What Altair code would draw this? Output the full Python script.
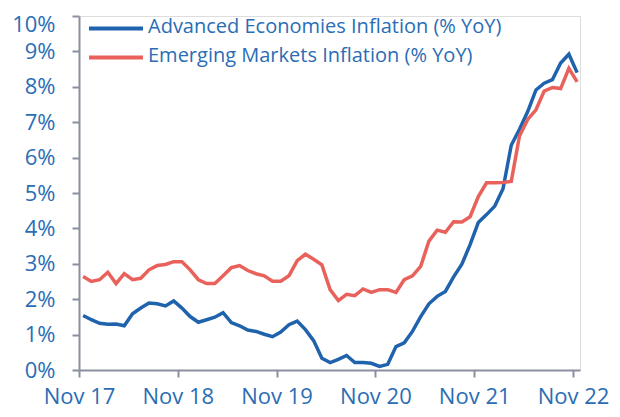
import altair as alt
import pandas as pd

# Monthly observations, Nov 2017 .. Nov 2022 (61 months)
advanced = [1.54, 1.42, 1.32, 1.29, 1.30, 1.25, 1.59, 1.75, 1.89, 1.87, 1.81, 1.95,
            1.75, 1.51, 1.35, 1.42, 1.49, 1.62, 1.34, 1.25, 1.13, 1.09, 1.01, 0.94,
            1.07, 1.28, 1.38, 1.14, 0.83, 0.33, 0.21, 0.30, 0.41, 0.21, 0.21, 0.19,
            0.10, 0.16, 0.66, 0.77, 1.09, 1.51, 1.87, 2.08, 2.22, 2.63, 2.99, 3.54,
            4.17, 4.39, 4.63, 5.12, 6.35, 6.80, 7.30, 7.91, 8.10, 8.20, 8.67, 8.92,
            8.40]
emerging = [2.64, 2.50, 2.55, 2.76, 2.44, 2.72, 2.55, 2.59, 2.83, 2.95, 2.98, 3.06,
            3.06, 2.83, 2.55, 2.44, 2.44, 2.66, 2.89, 2.95, 2.81, 2.72, 2.66, 2.51,
            2.51, 2.66, 3.09, 3.27, 3.13, 2.97, 2.27, 1.96, 2.14, 2.10, 2.29, 2.19,
            2.27, 2.27, 2.19, 2.55, 2.66, 2.93, 3.64, 3.95, 3.89, 4.19, 4.18, 4.33,
            4.90, 5.29, 5.29, 5.30, 5.33, 6.61, 7.08, 7.35, 7.88, 7.98, 7.95, 8.52,
            8.14]
series_names = ["Advanced Economies Inflation (% YoY)", "Emerging Markets Inflation (% YoY)"]
series_colors = ["#1f63ad", "#e9615b"]
x_tick_labels = ["Nov 17", "Nov 18", "Nov 19", "Nov 20", "Nov 21", "Nov 22"]
y_ticks = list(range(0, 11))

rows = []
for name, vals in zip(series_names, [advanced, emerging]):
    for i, v in enumerate(vals):
        rows.append({"series": name, "m": i + 0.5, "v": v})
df = pd.DataFrame(rows)

FONT = "Open Sans"
LABEL_COLOR = "#2a6db5"
AXIS_COLOR = "#8b8fa0"

tick_vals = [12 * i for i in range(len(x_tick_labels))]
label_expr = "['" + "','".join(x_tick_labels) + "'][round(datum.value/12)]"

x = alt.X("m:Q", scale=alt.Scale(domain=[0, 60.85], nice=False, zero=False),
          axis=alt.Axis(values=tick_vals, labelExpr=label_expr, title=None, grid=False,
                        domainColor=AXIS_COLOR, domainWidth=2, tickColor=AXIS_COLOR,
                        tickWidth=2, tickSize=7, labelFontSize=22, labelFont=FONT,
                        labelColor=LABEL_COLOR, labelPadding=9, labelFlush=False))
y = alt.Y("v:Q", scale=alt.Scale(domain=[0, 10], nice=False),
          axis=alt.Axis(values=y_ticks, labelExpr="datum.value + '%'", title=None, grid=False,
                        domainColor=AXIS_COLOR, domainWidth=2, tickColor=AXIS_COLOR,
                        tickWidth=2, tickSize=7, labelFontSize=22, labelFont=FONT,
                        labelColor=LABEL_COLOR, labelPadding=17,
                        labelOffset={"condition": {"test": "datum.value == 10", "value": 8}, "value": 0}))

lines = alt.Chart(df).mark_line(strokeWidth=3.5).encode(
    x=x, y=y,
    color=alt.Color("series:N", scale=alt.Scale(domain=series_names, range=series_colors), legend=None),
    detail="series:N",
)

legend_df = pd.DataFrame({"series": series_names, "row": [0, 1]})
legend_lines = alt.Chart(legend_df).mark_rule(strokeWidth=4).encode(
    x=alt.value(10), x2=alt.value(64),
    y=alt.Y("row:Q", scale=alt.Scale(domain=[0, 1], range=[12.5, 41.5]), axis=None),
    color=alt.Color("series:N", scale=alt.Scale(domain=series_names, range=series_colors), legend=None),
)
legend_text = alt.Chart(legend_df).mark_text(align="left", baseline="middle", fontSize=20,
                                              font=FONT, color=LABEL_COLOR).encode(
    x=alt.value(69),
    y=alt.Y("row:Q", scale=alt.Scale(domain=[0, 1], range=[11, 40]), axis=None),
    text="series:N",
)

chart = alt.layer(lines, legend_lines, legend_text).resolve_scale(y="independent").properties(
    width=501, height=354,
    autosize=alt.AutoSizeParams(type="none"),
    padding={"left": 71, "top": 8, "right": 32, "bottom": 39},
).configure_view(stroke=None).configure(background="white")

chart.save("out.html", embed_options={"renderer": "svg", "actions": False})
